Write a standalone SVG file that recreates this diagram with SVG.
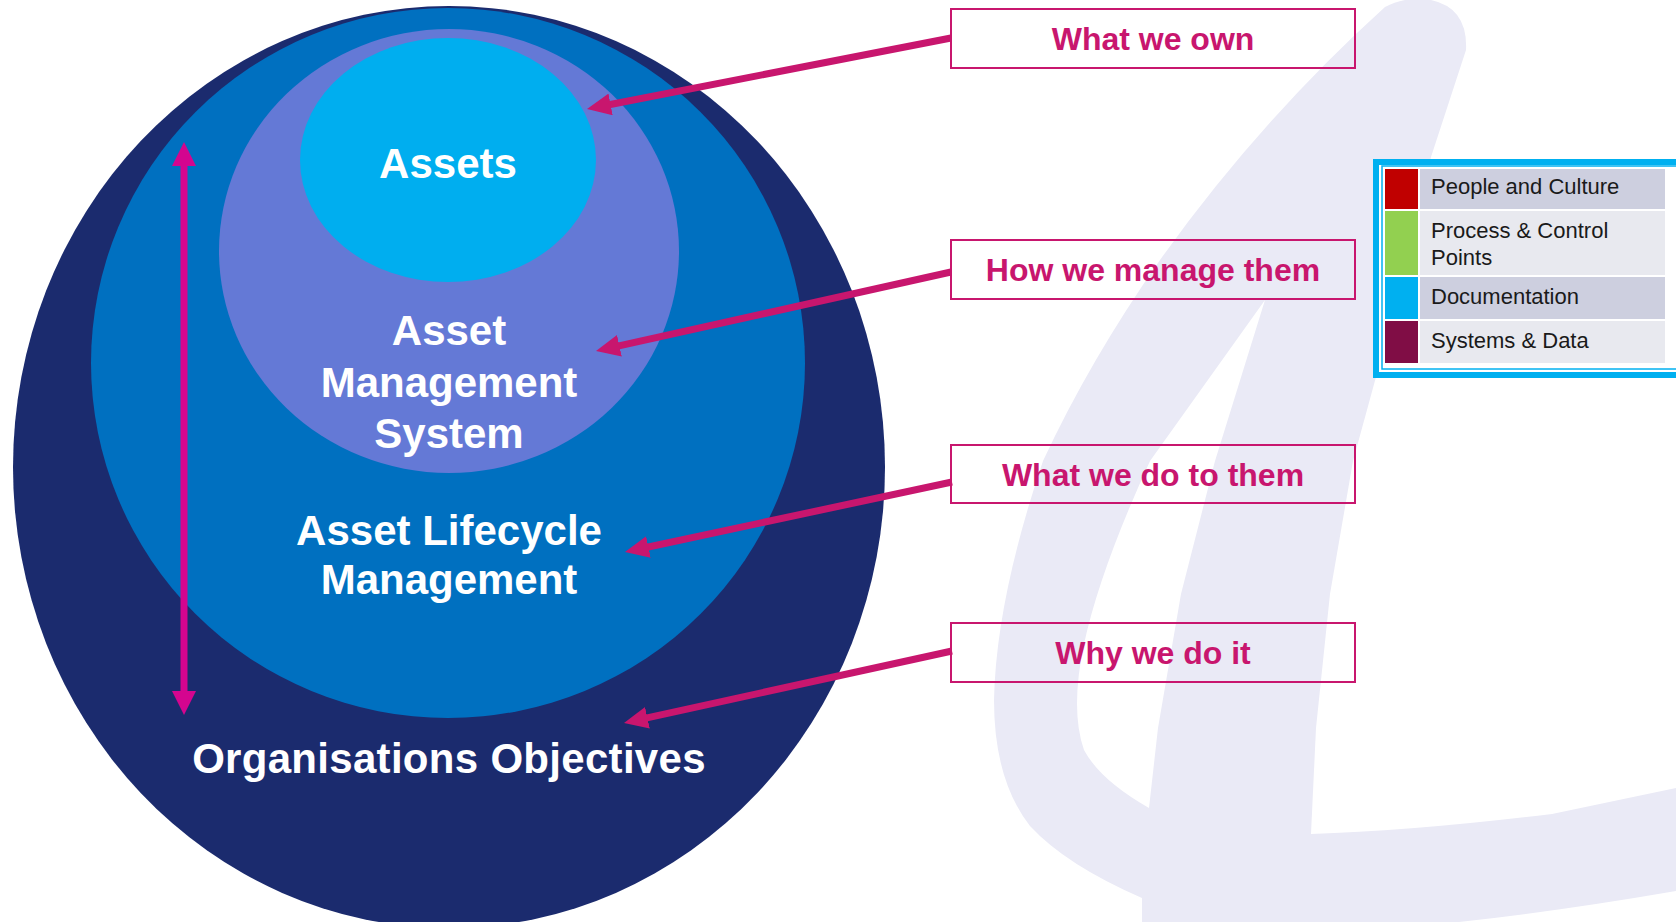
<svg xmlns="http://www.w3.org/2000/svg" width="1676" height="922" viewBox="0 0 1676 922">
<style>
.ct{font-family:"Liberation Sans",Arial,sans-serif;font-weight:bold;font-size:42px;fill:#ffffff;text-anchor:middle}
.bx{fill:none;stroke:#C8166E;stroke-width:2}
.bt{font-family:"Liberation Sans",Arial,sans-serif;font-weight:bold;font-size:32px;fill:#C8166E;text-anchor:middle}
.lt{font-family:"Liberation Sans",Arial,sans-serif;font-size:22px;fill:#1a1a1a}
.ar{stroke:#C8166E;stroke-width:7;fill:none}
</style>
<defs>
<marker id="ah" viewBox="0 0 24 22" refX="12" refY="11" markerWidth="24" markerHeight="22" markerUnits="userSpaceOnUse" orient="auto"><path d="M0,0 L24,11 L0,22 z" fill="#C8166E"/></marker>
<marker id="av" viewBox="0 0 24 24" refX="12" refY="12" markerWidth="24" markerHeight="24" markerUnits="userSpaceOnUse" orient="auto-start-reverse"><path d="M0,0 L24,12 L0,24 z" fill="#D4058F"/></marker>
</defs>
<rect width="1676" height="922" fill="#ffffff"/>
<g id="background">
<path fill="#EAEAF6" fill-rule="evenodd" d="M1385,7 Q1405,-4 1431,0 Q1468,8 1466,50 L1431,157 L1376,377 L1353,461 L1330,594 L1316,728 L1311,834 Q1413,831 1552,814 L1676,788 L1676,891 Q1560,911 1459,922 L1142,922 L1142,898 Q1066,865 1030,826 Q994,780 994,700 Q996,600 1043,461 Q1090,360 1160,260 Q1260,120 1385,7 Z M1265,300 L1215,461 L1181,594 L1158,728 L1149,808 Q1100,780 1084,750 Q1070,710 1084,644 Q1100,570 1150,461 Z"/>
</g>
<g id="node-organisations-objectives">
<ellipse cx="449" cy="467" rx="436" ry="461" fill="#1B2B6E"/>
</g>
<g id="node-asset-lifecycle">
<ellipse cx="448" cy="363" rx="357" ry="355" fill="#0070C0"/>
</g>
<g id="node-ams">
<ellipse cx="449" cy="251" rx="230" ry="222" fill="#6479D6"/>
</g>
<g id="node-assets">
<ellipse cx="448" cy="160" rx="148" ry="122" fill="#00AEEF"/>
</g>
<g id="circle-labels">
<text class="ct" x="448" y="178">Assets</text>
<text class="ct" x="449" y="345">Asset</text>
<text class="ct" x="449" y="397">Management</text>
<text class="ct" x="449" y="448">System</text>
<text class="ct" x="449" y="545">Asset Lifecycle</text>
<text class="ct" x="449" y="594">Management</text>
<text class="ct" x="449" y="773" letter-spacing="0.3">Organisations Objectives</text>
</g>
<g id="node-what-we-own"><rect class="bx" x="951" y="9" width="404" height="59"/><text class="bt" x="1153" y="50">What we own</text></g>
<g id="node-how-we-manage"><rect class="bx" x="951" y="240" width="404" height="59"/><text class="bt" x="1153" y="281">How we manage them</text></g>
<g id="node-what-we-do"><rect class="bx" x="951" y="445" width="404" height="58"/><text class="bt" x="1153" y="486">What we do to them</text></g>
<g id="node-why"><rect class="bx" x="951" y="623" width="404" height="59"/><text class="bt" x="1153" y="664">Why we do it</text></g>
<g id="connectors">
<line class="ar" x1="951" y1="38" x2="598.8" y2="106.7" marker-end="url(#ah)"/>
<line class="ar" x1="951" y1="272" x2="607.7" y2="348.4" marker-end="url(#ah)"/>
<line class="ar" x1="952" y1="482" x2="636.7" y2="549.5" marker-end="url(#ah)"/>
<line class="ar" x1="952" y1="651" x2="635.7" y2="720.4" marker-end="url(#ah)"/>
<line x1="184" y1="154" x2="184" y2="703" stroke="#D4058F" stroke-width="7" marker-start="url(#av)" marker-end="url(#av)"/>
</g>
<g id="legend">
<rect x="1376" y="162" width="310" height="213" fill="#ffffff" stroke="#00B0F0" stroke-width="6"/>
<rect x="1382" y="166" width="300" height="203" fill="none" stroke="#00B0F0" stroke-width="1.5"/>
<rect x="1385" y="169" width="33" height="40" fill="#C00000"/>
<rect x="1420" y="169" width="245" height="40" fill="#CDCFDF"/>
<rect x="1385" y="211" width="33" height="64" fill="#92D050"/>
<rect x="1420" y="211" width="245" height="64" fill="#E8E9EF"/>
<rect x="1385" y="277" width="33" height="42" fill="#00B0F0"/>
<rect x="1420" y="277" width="245" height="42" fill="#CDCFDF"/>
<rect x="1385" y="321" width="33" height="42" fill="#800D45"/>
<rect x="1420" y="321" width="245" height="42" fill="#E8E9EF"/>
<text class="lt" x="1431" y="194">People and Culture</text>
<text class="lt" x="1431" y="238">Process &amp; Control</text>
<text class="lt" x="1431" y="265">Points</text>
<text class="lt" x="1431" y="304">Documentation</text>
<text class="lt" x="1431" y="348">Systems &amp; Data</text>
</g>
</svg>
